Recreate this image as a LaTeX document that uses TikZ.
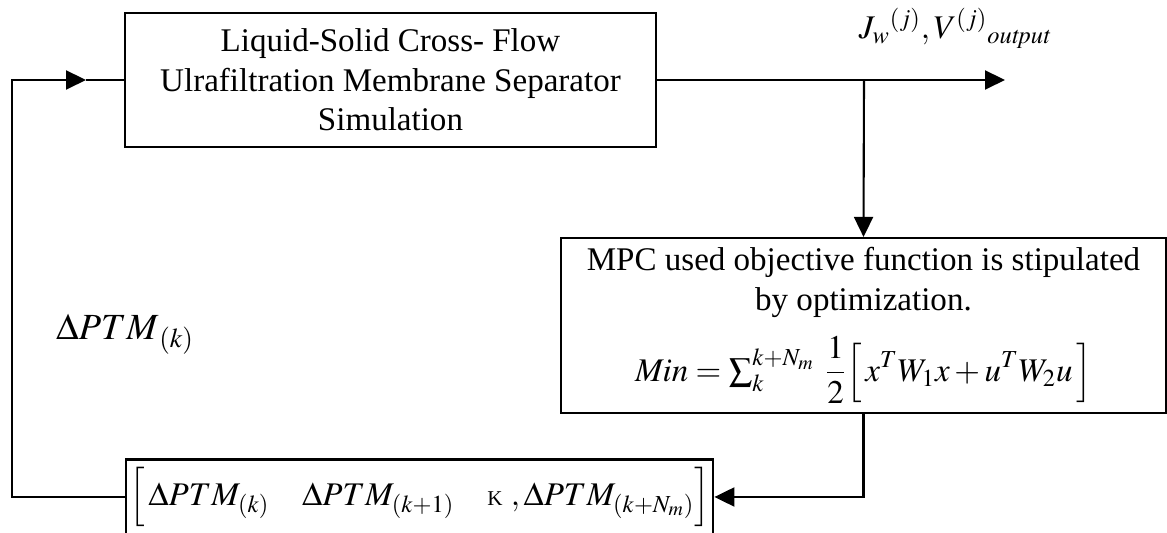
\documentclass[tikz,border=0pt]{standalone}
\usepackage{amsmath,amssymb}
\usepackage{mathptmx}
\usepackage{fontspec}
\setmainfont{Liberation Serif}
\usepackage{tikz}
\usetikzlibrary{arrows.meta,positioning,calc}
\newcommand{\blockfont}{\fontsize{18.8pt}{22.5pt}\selectfont}
\newcommand{\smallK}{\text{\fontsize{12pt}{12pt}\selectfont K}}

\begin{document}
\begin{tikzpicture}[
  blockbox/.style={draw, line width=1.2pt, align=center, font=\blockfont, inner sep=2pt},
  flow/.style={line width=1.2pt},
  tip/.style={-{Triangle[length=0.4cm,width=0.38cm]}}
]
\useasboundingbox (0,0) rectangle (23.34,10.66);

% === Blocks ===
\node[blockbox, minimum width=10.62cm, minimum height=2.68cm] (sim) at (7.81, 9.06)
  {Liquid-Solid Cross- Flow\\Ulrafiltration Membrane Separator\\Simulation};
\node[blockbox, minimum width=12.1cm, minimum height=3.5cm] (mpc) at (17.27, 4.15)
  {MPC used objective function is stipulated\\by optimization.\\[10pt]
   $\mathit{Min}=\sum_{k}^{k+N_m}\;\displaystyle\frac{1}{2}\Big[\,x^{T}W_{1}x+u^{T}W_{2}u\,\Big]$};
\node[blockbox, minimum width=11.74cm, minimum height=1.5cm] (seq) at (8.39, 0.72)
  {$\Big[\,\Delta PTM_{(k)}\quad\Delta PTM_{(k+1)}\quad\smallK\ ,\Delta PTM_{(k+N_m)}\Big]$};

% Junction and loop corners
\coordinate (jn) at (17.28, 9.06);
\coordinate (out) at (20.1, 9.06);
\coordinate (lc) at (0.24, 9.06);
\coordinate (ain) at (1.72, 9.06);

% === Connectors ===
\draw[flow, tip] (sim.east) -- (out);
\draw[flow, tip] (jn) -- (mpc.north);
\draw[flow, tip] (mpc.south) |- (seq.east);
\draw[flow, tip] (seq.west) -| (lc) -- (ain);
\draw[flow] (ain) -- (sim.west);

% Labels
\node[font=\blockfont] (outlbl) at (19.1, 10.1) {$J_{w}{}^{(j)},V^{(j)}{}_{\mathit{output}}$};
\node[font=\fontsize{21pt}{24pt}\selectfont] (dlbl) at (2.5, 3.98) {$\Delta PTM_{\,(k)}$};

\end{tikzpicture}
\end{document}
